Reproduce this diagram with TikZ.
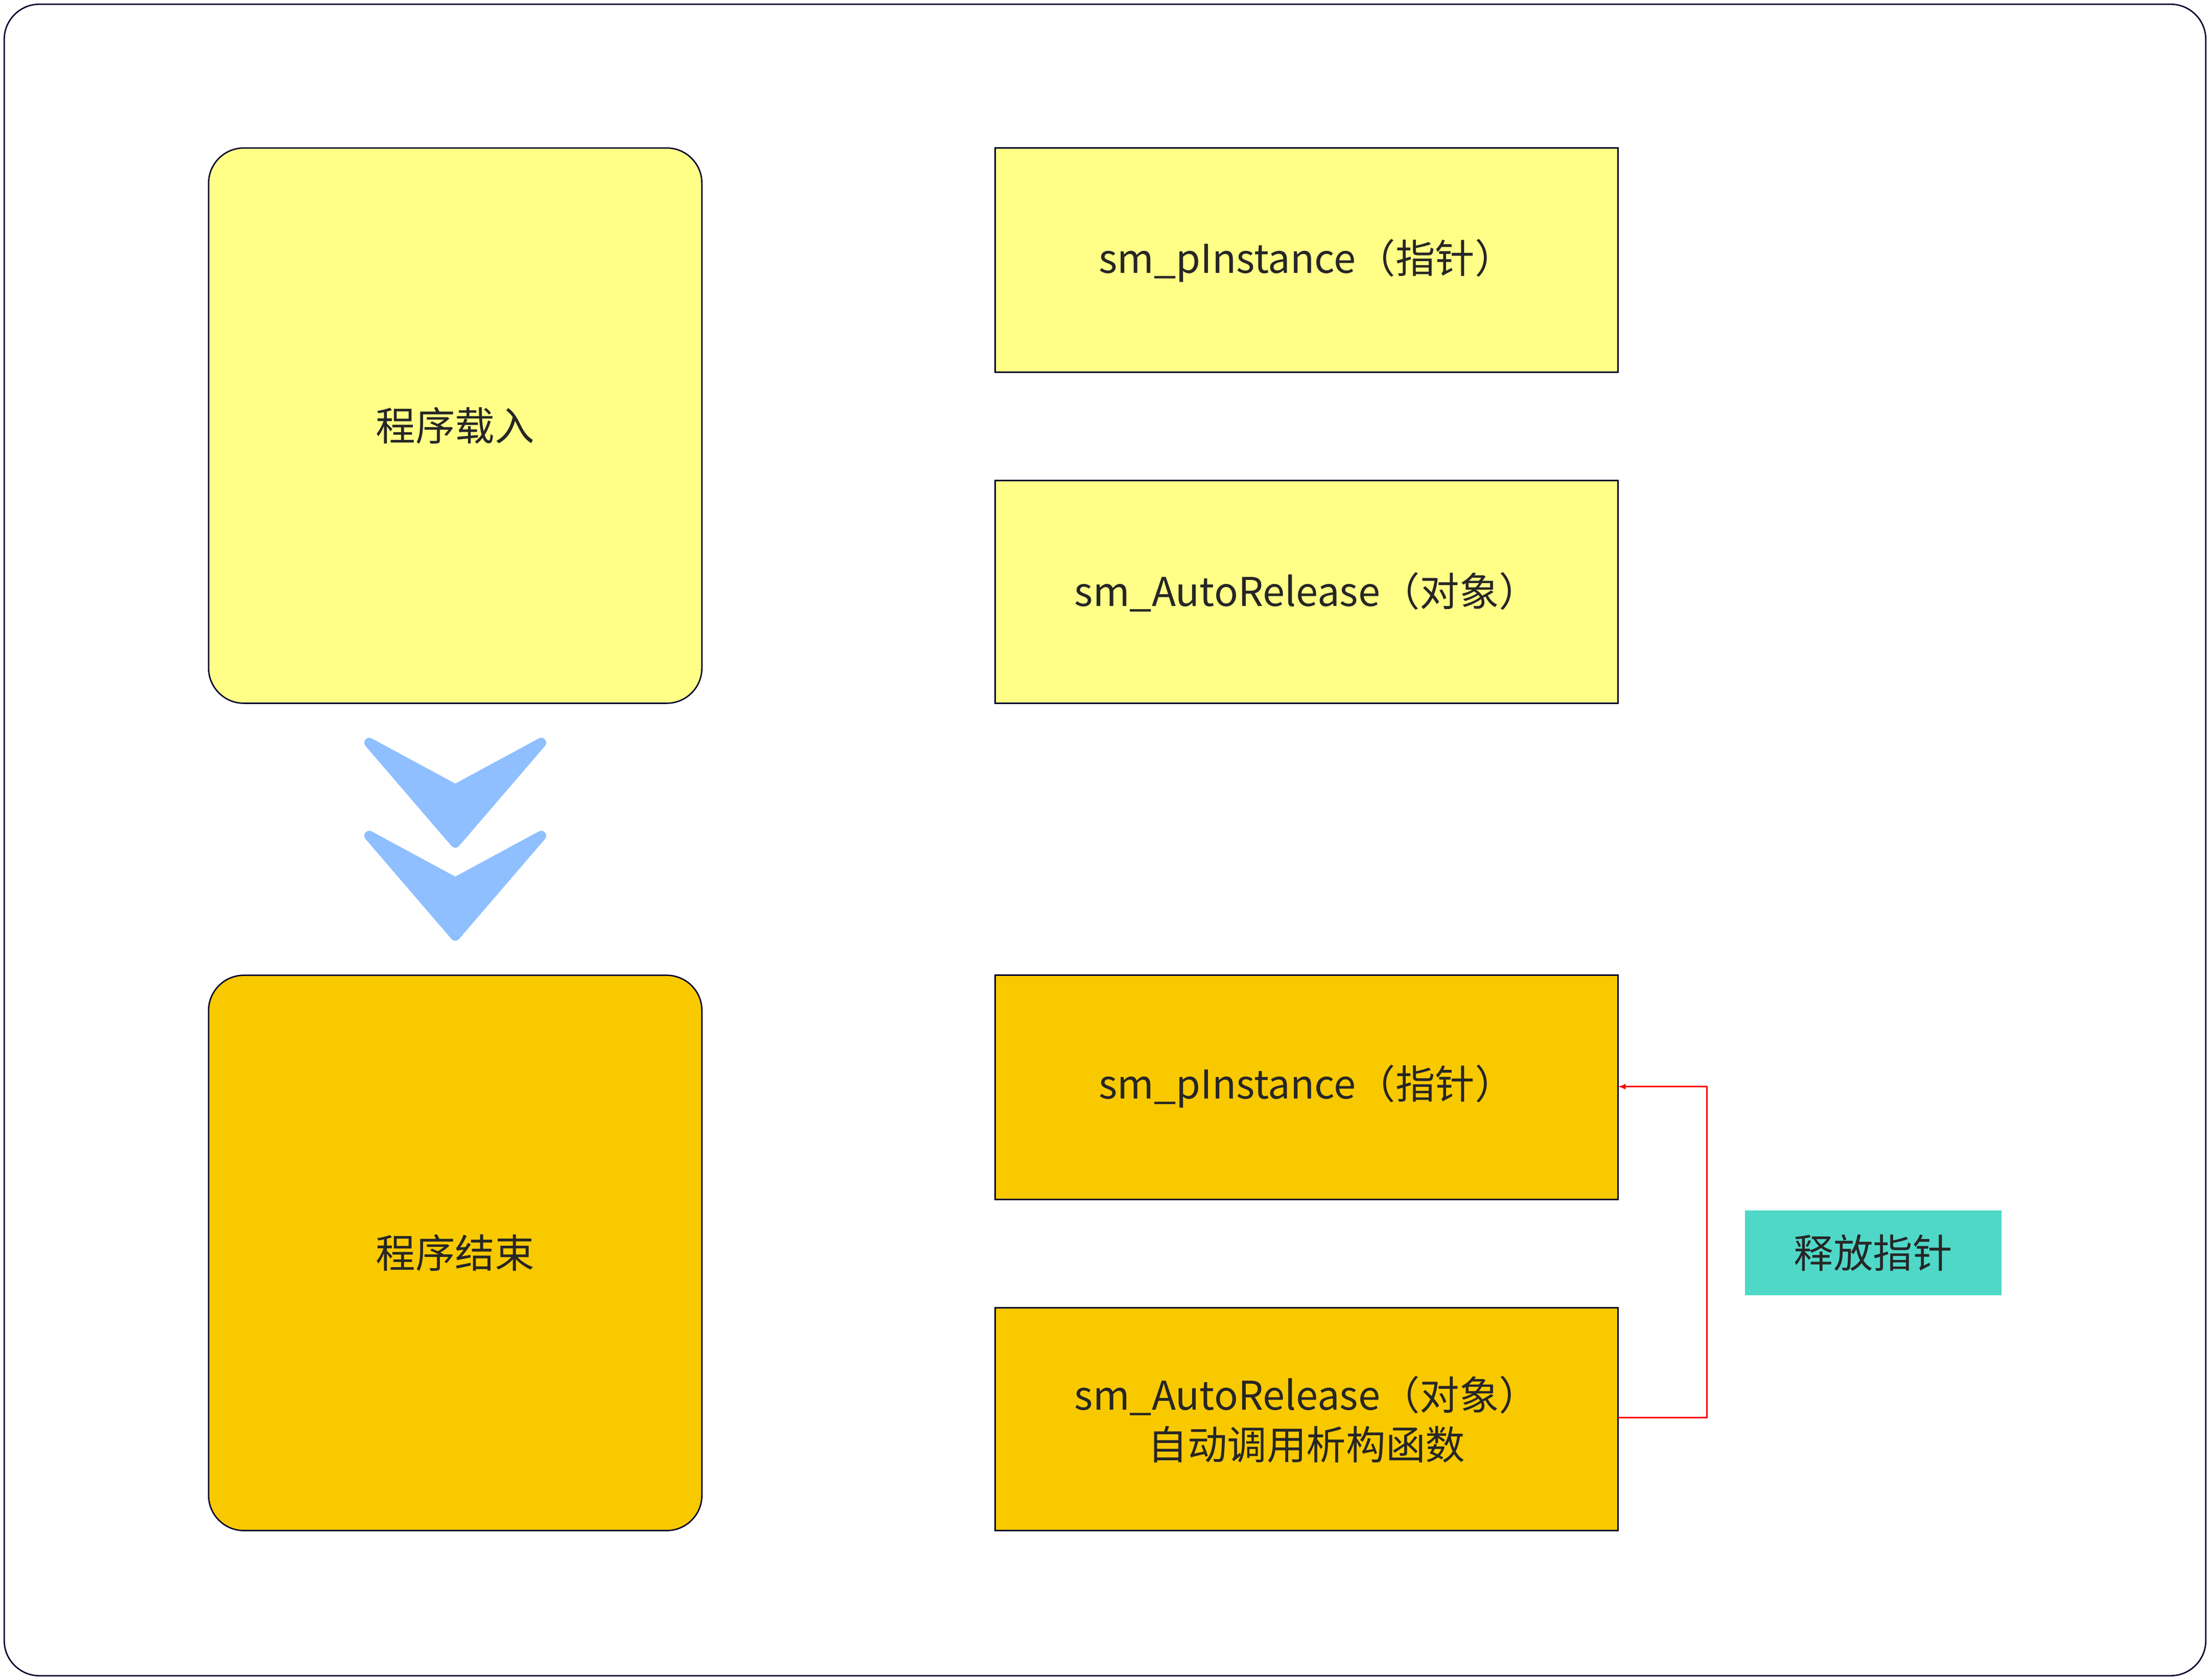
\documentclass[tikz,border=0pt]{standalone}
\usepackage{fontspec}
\setmainfont{Noto Sans CJK SC}
\begin{document}
\begin{tikzpicture}[x=0.05cm,y=-0.05cm,
  bx/.style={draw=black!70!blue!60!black,line width=1.4pt},
  lbl/.style={font=\fontsize{40}{50}\selectfont,align=center,text=black!85},
  chev/.style={fill=blue!30!cyan!20!blue!45, draw=blue!30!cyan!20!blue!45,fill=chevc,draw=chevc,line width=10pt,line join=round}]
\definecolor{chevc}{HTML}{8FBFFF}
\definecolor{ly}{HTML}{FFFF88}
\definecolor{dy}{HTML}{F9C900}
\definecolor{tl}{HTML}{4FD8C8}
\useasboundingbox (0,0) rectangle (1568,1192);
\draw[bx,rounded corners=12.5mm] (3,3) rectangle (1565,1189);
\draw[bx,fill=ly,rounded corners=12.5mm] (148,105) rectangle (498,499);
\node[lbl] (l1) at (323,302) {程序载入};
\draw[bx,fill=dy,rounded corners=12.5mm] (148,692) rectangle (498,1086);
\node[lbl] (l2) at (323,889) {程序结束};
\draw[bx,fill=ly] (706,105) rectangle (1148,264);
\node[lbl] (r1) at (927,185) {sm\_pInstance（指针）};
\draw[bx,fill=ly] (706,341) rectangle (1148,499);
\node[lbl] (r2) at (927,420) {sm\_AutoRelease（对象）};
\draw[bx,fill=dy] (706,692) rectangle (1148,851);
\node[lbl] (r3) at (927,771) {sm\_pInstance（指针）};
\draw[bx,fill=dy] (706,928) rectangle (1148,1086);
\node[lbl] (r4) at (927,1007) {sm\_AutoRelease（对象）\\自动调用析构函数};
\coordinate (r3e) at (1148,771);
\coordinate (r4e) at (1148,1006);
\draw[red,line width=1.6pt,-latex] (r4e) -- (1211,1006) -- (1211,771) -- (r3e);
\fill[tl] (1238,859) rectangle (1420,919);
\node[lbl] (rel) at (1329,889) {释放指针};
\foreach \dy in {0,66}{
  \filldraw[chev] (262,527+\dy) -- (323,560+\dy) -- (384,527+\dy) -- (323,598+\dy) -- cycle;
}
\end{tikzpicture}
\end{document}
